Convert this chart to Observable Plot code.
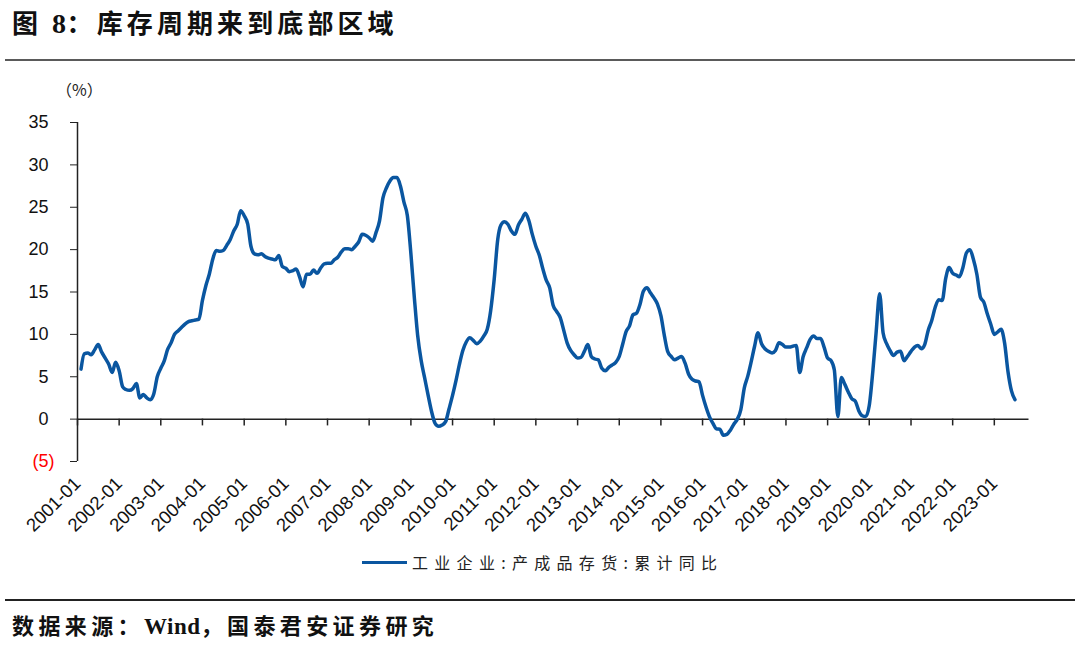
<!DOCTYPE html>
<html>
<head>
<meta charset="utf-8">
<script src="https://cdn.jsdelivr.net/npm/d3@7"></script>
<script src="https://cdn.jsdelivr.net/npm/@observablehq/plot@0.6"></script>
<style>
  html, body { margin: 0; padding: 0; background: #fff; }
  body { width: 1080px; height: 648px; position: relative; overflow: hidden; font-family: "Noto Sans CJK SC", sans-serif; }
  .abs { position: absolute; }
  .lat { font-family: "Liberation Serif", "Times New Roman", serif; letter-spacing: 0.5px; }
  #title { left: 12px; top: 7px; font-size: 26px; font-weight: 700; letter-spacing: 4.1px; line-height: 30px; color: #111; }
  #title .lat { font-size: 28px; }
  #rule1 { left: 5px; top: 59px; width: 1070px; height: 2px; background: #5a5a5a; }
  #chart { left: 0; top: 62px; }
  #unit { left: 56px; top: 79px; font-size: 16px; color: #222; line-height: 20px; font-family: "Noto Sans CJK SC", sans-serif; }
  #legend { left: 362px; top: 550px; display: flex; align-items: center; }
  #legend .sw { width: 45px; height: 3px; background: #0a56a0; margin-right: 5px; }
  #legend .tx { font-size: 16px; letter-spacing: 6.3px; color: #222; line-height: 24px; }
  #rule2 { left: 5px; top: 599px; width: 1070px; height: 2px; background: #222; }
  #footer { left: 12px; top: 609px; font-size: 22px; font-weight: 700; letter-spacing: 4.4px; line-height: 30px; color: #111; }
  #footer .lat { font-size: 23px; letter-spacing: 0.5px; }
</style>
</head>
<body>
<div id="title" class="abs">图 <span class="lat">8</span>：库存周期来到底部区域</div>
<div id="rule1" class="abs"></div>
<div id="unit" class="abs">（%）</div>
<div id="chart" class="abs"></div>
<div id="legend" class="abs"><div class="sw"></div><div class="tx">工业企业:产成品存货:累计同比</div></div>
<div id="rule2" class="abs"></div>
<div id="footer" class="abs">数据来源：<span class="lat">Wind</span>，国泰君安证券研究</div>
<script>
// Series: 工业企业:产成品存货:累计同比 (%), monthly from 2001-02 to 2023-07
const seriesName = "工业企业:产成品存货:累计同比";
const firstMonth = "2001-02";
const values = [
  5.9, 7.7, 7.8, 7.6, 8.2, 8.8, 7.9, 7.2, 6.5, 5.5, 6.7, 5.7,
  3.8, 3.5, 3.4, 3.6, 4.2, 2.5, 2.9, 2.5, 2.3, 3.0, 5.0, 6.0,
  6.9, 8.2, 9.0, 10.0, 10.4, 10.8, 11.2, 11.5, 11.6, 11.7, 11.8, 14.0,
  15.8, 17.1, 18.9, 19.9, 19.8, 19.9, 20.5, 21.2, 22.2, 23.0, 24.6, 24.0,
  23.0, 20.4, 19.5, 19.4, 19.5, 19.2, 19.0, 18.9, 18.8, 19.3, 18.0, 17.8,
  17.4, 17.5, 17.7, 16.8, 15.6, 17.1, 17.1, 17.6, 17.2, 17.8, 18.3, 18.4,
  18.4, 18.8, 19.1, 19.7, 20.1, 20.1, 20.0, 20.4, 20.9, 21.8, 21.7, 21.4,
  21.0, 22.0, 23.4, 26.1, 27.3, 28.1, 28.5, 28.5, 27.5, 25.6, 24.0, 19.5,
  14.2, 9.9, 6.9, 4.9, 2.8, 0.9, -0.5, -0.85, -0.7, -0.3, 1.2, 2.8,
  4.6, 6.4, 8.1, 9.1, 9.6, 9.3, 8.9, 9.2, 9.8, 10.6, 12.8, 16.5,
  21.2, 22.9, 23.3, 23.0, 22.2, 21.8, 22.9, 23.6, 24.3, 23.4, 21.8, 20.4,
  19.3, 17.8, 16.4, 15.5, 13.4, 12.7, 12.0, 10.5, 9.0, 8.1, 7.6, 7.2,
  7.3, 8.0, 8.8, 7.4, 7.1, 7.0, 6.0, 5.7, 6.1, 6.4, 6.7, 7.4,
  8.9, 10.3, 11.0, 12.3, 12.5, 13.5, 15.1, 15.5, 14.9, 14.3, 13.6, 12.2,
  9.8, 8.0, 7.4, 7.0, 7.2, 7.4, 6.6, 5.3, 4.7, 4.5, 4.4, 2.8,
  1.4, 0.3, -0.5, -1.15, -1.2, -1.9, -1.8, -1.3, -0.6, 0.0, 1.1, 3.7,
  5.1, 6.7, 8.6, 10.2, 8.9, 8.3, 8.0, 7.8, 8.1, 9.0, 8.8, 8.5,
  8.5, 8.6, 8.7, 5.5, 7.4, 8.4, 9.4, 9.8, 9.5, 9.5, 8.5, 7.2,
  6.9, 5.8, 0.3, 4.9, 4.1, 3.2, 2.4, 2.1, 1.0, 0.4, 0.3, 1.6,
  5.6, 10.2, 14.8, 10.2, 8.9, 8.1, 7.5, 7.9, 8.0, 6.9, 7.4, 8.0,
  8.5, 8.7, 8.3, 8.8, 10.5, 11.6, 13.2, 14.1, 14.0, 16.6, 17.9, 17.2,
  17.0, 16.8, 17.9, 19.6, 20.0, 18.9, 17.1, 14.4, 13.8, 12.4, 11.2, 10.0,
  10.3, 10.6, 9.0, 5.6, 3.3, 2.3
];
const xTickLabels = ["2001-01","2002-01","2003-01","2004-01","2005-01","2006-01","2007-01","2008-01","2009-01","2010-01","2011-01","2012-01","2013-01","2014-01","2015-01","2016-01","2017-01","2018-01","2019-01","2020-01","2021-01","2022-01","2023-01"];
const yTicksPos = [0, 5, 10, 15, 20, 25, 30, 35];
const yTicksNeg = [-5];
const xStart = "2001-01";
const xEnd = "2023-11";

const parseM = d3.utcParse("%Y-%m");
const start = parseM(firstMonth);
const data = values.map((v, i) => ({date: d3.utcMonth.offset(start, i), value: v}));
const xTicks = xTickLabels.map(parseM);

const chart = Plot.plot({
  width: 1080,
  height: 480,
  marginTop: 60,
  marginBottom: 81,
  marginLeft: 77,
  marginRight: 51.5,
  style: {fontFamily: "'Liberation Sans', Arial, sans-serif", color: "#111", background: "transparent"},
  x: {type: "utc", domain: [parseM(xStart), parseM(xEnd)]},
  y: {domain: [-5, 35]},
  marks: [
    Plot.axisX(xTicks, {anchor: "bottom", tickSize: 0, tickPadding: 19, tickRotate: -45, tickFormat: d3.utcFormat("%Y-%m"), fontSize: 18.5, label: null}),
    Plot.axisY(yTicksPos, {anchor: "left", tickSize: 7, tickPadding: 22, fontSize: 18, label: null, stroke: "#222"}),
    Plot.axisY(yTicksNeg, {anchor: "left", tickSize: 7, tickPadding: 16, fontSize: 18, label: null, tickFormat: d => `(${-d})`, fill: "#ff0000", stroke: "#222"}),
    Plot.ruleX([parseM(xStart)], {y1: -5, y2: 35, stroke: "#222", strokeWidth: 1.5}),
    Plot.ruleY([0], {stroke: "#222", strokeWidth: 1.5}),
    Plot.ruleX(xTicks, {y1: 0, y2: -0.8, stroke: "#222", strokeWidth: 1.5}),
    Plot.line(data, {x: "date", y: "value", stroke: "#0a56a0", strokeWidth: 3.5, curve: "monotone-x"})
  ]
});
document.getElementById("chart").appendChild(chart);
</script>
</body>
</html>
